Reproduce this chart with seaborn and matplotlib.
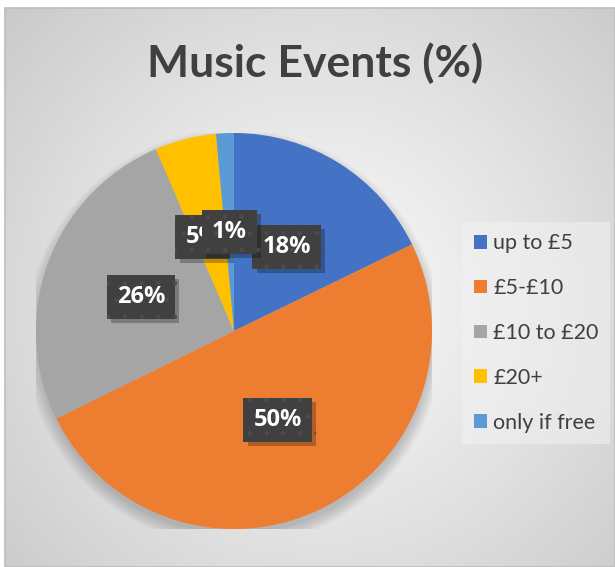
import numpy as np
import matplotlib
matplotlib.use("Agg")
import matplotlib.pyplot as plt
import matplotlib.patheffects as pe
from matplotlib.patches import Rectangle, Circle
import seaborn as sns

# ---- data ----
categories = ["up to £5", "£5-£10", "£10 to £20", "£20+", "only if free"]
shares = [17.8, 49.9, 25.85, 5.0, 1.45]
colors = ["#4472C4", "#ED7D31", "#A5A5A5", "#FFC000", "#5B9BD5"]
title = "Music Events (%)"

sns.set_theme(style="white")
plt.rcParams["font.family"] = ["Lato", "DejaVu Sans"]
plt.rcParams["hatch.linewidth"] = 0.6

W, H = 615, 567
fig = plt.figure(figsize=(W / 100, H / 100), dpi=100)
fig.patch.set_facecolor("white")

# ---- background (radial gradient chart area) ----
x0, y0, x1, y1 = 5, 8, 615, 567  # px, top-left origin
bg = fig.add_axes([x0 / W, 1 - y1 / H, (x1 - x0) / W, (y1 - y0) / H])
bg.set_zorder(-10)
yy, xx = np.mgrid[y0:y1, x0:x1]
cx, cy = 320, 300
d = np.sqrt((xx - cx) ** 2 + (yy - cy) ** 2) / 430.0
d = np.clip(d, 0, 1)
inner, outer = 0.975, 0.79
val = inner + (outer - inner) * d ** 1.2
img = np.dstack([val, val, val])
bg.imshow(img, extent=[0, 1, 0, 1], aspect="auto", origin="upper")
bg.set_axis_off()
fig.patches.append(Rectangle((x0 / W, 0), (x1 - x0) / W, 1 - y0 / H,
                             transform=fig.transFigure, fill=False,
                             edgecolor="#bdbdbd", linewidth=1.2))

# ---- pie ----
pcx, pcy, R = 234, 331, 198
ax = fig.add_axes([(pcx - R) / W, (H - pcy - R) / H, 2 * R / W, 2 * R / H])
ax.patch.set_alpha(0)

# soft shadow below pie
for i in range(10):
    ax.add_patch(Circle((0.0, -0.035), 0.99 + i * 0.007, color="black",
                        alpha=0.02, linewidth=0, zorder=0))

wedges, texts, autotexts = ax.pie(
    shares, colors=colors, startangle=90, counterclock=False,
    autopct="%.0f%%", pctdistance=0.5,
    wedgeprops=dict(linewidth=0),
    textprops=dict(color="white", fontsize=17, fontweight="bold",
                   family=["Open Sans", "DejaVu Sans"]),
)
ax.set_xlim(-1, 1)
ax.set_ylim(-1, 1)
ax.set_aspect("equal")
ax.set_axis_off()

# nudge the small "£20+" label left a little, as the reference does
px, py = autotexts[3].get_position()
autotexts[3].set_position((px - 0.035, py - 0.01))

for t in autotexts:
    t.set_bbox(dict(boxstyle="square,pad=0.42", facecolor="#404040",
                    edgecolor="#4c4c4c", linewidth=0, hatch="."))
    bp = t.get_bbox_patch()
    bp.set_path_effects([pe.SimplePatchShadow(offset=(3, -3), shadow_rgbFace="black", alpha=0.25),
                         pe.Normal()])

# ---- legend ----
leg = ax.legend(wedges, categories, loc="center left",
                bbox_to_anchor=(462 / W, 1 - 333 / H), bbox_transform=fig.transFigure,
                fontsize=15.5, frameon=True, handlelength=0.6, handleheight=0.6,
                handletextpad=0.3, labelspacing=1.15, borderpad=0.55,
                borderaxespad=0)
leg.get_frame().set_facecolor("#f2f2f2")
leg.get_frame().set_alpha(0.55)
leg.get_frame().set_edgecolor("none")
leg.get_frame().set_boxstyle("square", pad=0)
for txt in leg.get_texts():
    txt.set_color("#404040")

# ---- title ----
fig.text(315 / W, 1 - 77 / H, title, ha="center", va="baseline",
         fontsize=32, fontweight="bold", color="#404040")

fig.savefig("out.png", dpi=100)
